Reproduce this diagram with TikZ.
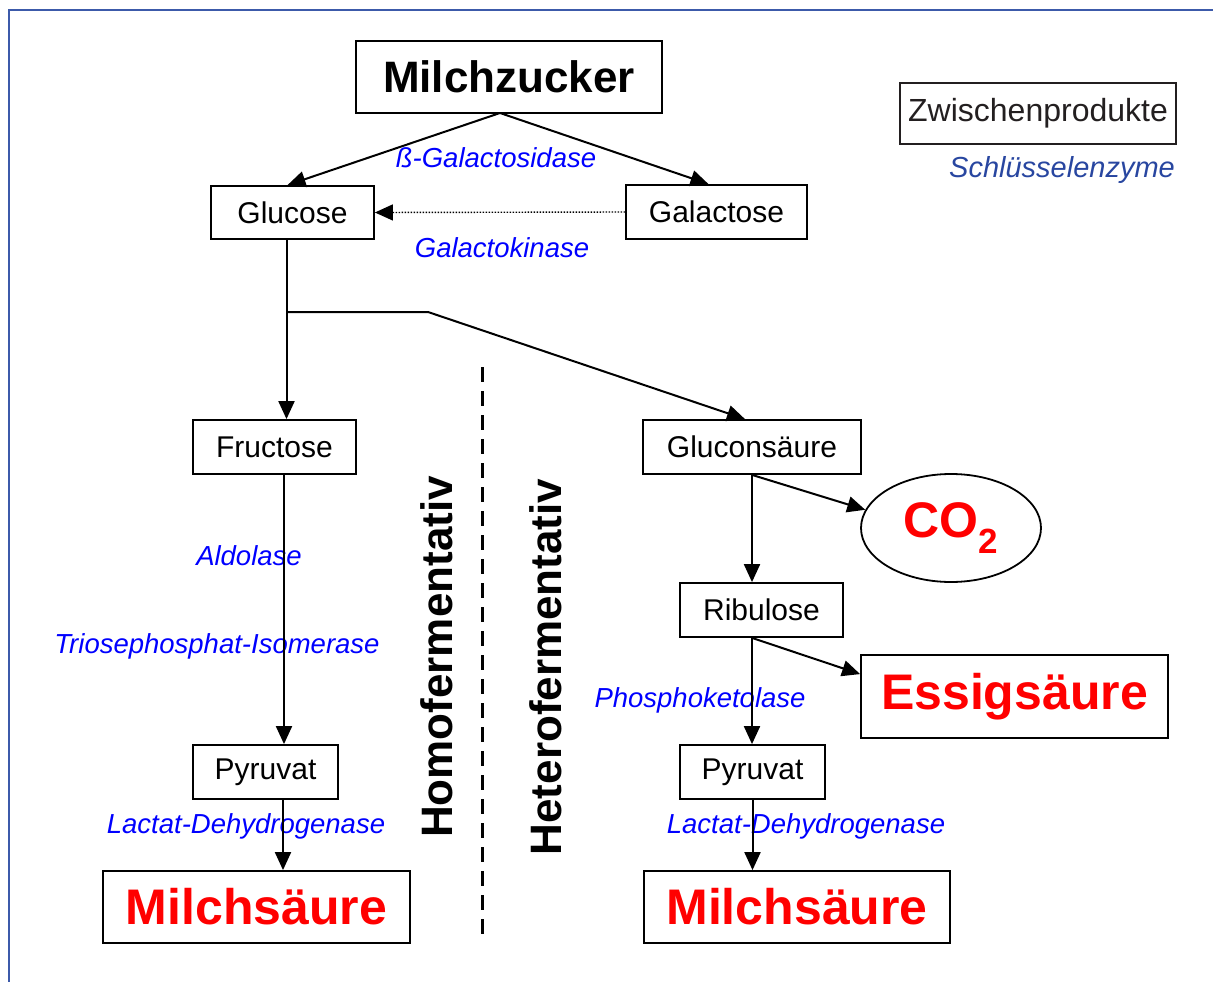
\documentclass[tikz,border=0pt]{standalone}
\usepackage{fontspec}
\setmainfont{Liberation Sans}
\usetikzlibrary{arrows.meta,shapes.geometric,calc}
\definecolor{enz}{RGB}{0,0,255}
\definecolor{framec}{RGB}{60,90,170}
\definecolor{leg}{RGB}{40,70,160}
\definecolor{rd}{RGB}{255,0,0}
\definecolor{dk}{RGB}{35,31,32}
\begin{document}
\begin{tikzpicture}[x=1pt,y=-1pt,
  box/.style={draw=black, line width=1.8pt, inner sep=0pt, font=\fontsize{30}{34}\selectfont},
  big/.style={draw=black, line width=1.8pt, inner sep=0pt, text=rd, font=\fontsize{50}{56}\selectfont\bfseries},
  enzyme/.style={text=enz, inner sep=0pt, font=\fontsize{27.5}{32}\selectfont\itshape},
  arr/.style={line width=2pt, -{Triangle[length=18pt,width=16pt]}},
  side/.style={inner sep=0pt, rotate=90, font=\fontsize{44}{50}\selectfont\bfseries}]
\useasboundingbox (0,0) rectangle (1213,982);
\draw[framec, line width=2pt] (9,982) -- (9,10) -- (1213,10);

% nodes
\node[box, minimum width=306pt, minimum height=72pt, font=\fontsize{44}{50}\selectfont\bfseries] (mz) at (509,77) {Milchzucker};
\node[box, minimum width=163pt, minimum height=53pt] (glu) at (292.5,212.5) {Glucose};
\node[box, minimum width=181pt, minimum height=54pt] (gal) at (716.5,212) {Galactose};
\node[box, minimum width=163pt, minimum height=54pt] (fru) at (274.5,447) {Fructose};
\node[box, minimum width=218pt, minimum height=54pt] (gcs) at (752,447) {Gluconsäure};
\node[box, minimum width=163pt, minimum height=54pt] (rib) at (761.5,610) {Ribulose};
\node[box, minimum width=145pt, minimum height=54pt] (pyl) at (265.5,772) {Pyruvat};
\node[box, minimum width=145pt, minimum height=54pt] (pyr) at (752.5,772) {Pyruvat};
\node[big, minimum width=307pt, minimum height=72pt] (msl) at (256.5,907) {Milchsäure};
\node[big, minimum width=306pt, minimum height=72pt] (msr) at (797,907) {Milchsäure};
\node[big, minimum width=307pt, minimum height=83pt] (ess) at (1014.5,696.5) {Essigsäure};
\node[big, ellipse, minimum width=180pt, minimum height=108pt] (co2) at (951,528) {CO\textsubscript{2}};
\node[box, draw=dk, text=dk, line width=1.4pt, minimum width=276pt, minimum height=61pt, font=\fontsize{32}{36}\selectfont] (zw) at (1038,113.5) {Zwischenprodukte};
\node[inner sep=0pt, text=leg, font=\fontsize{29}{34}\selectfont\itshape] (se) at (1062,170) {Schlüsselenzyme};

% enzyme labels
\node[enzyme] (e1) at (496,158) {ß-Galactosidase};
\node[enzyme] (e2) at (502,248) {Galactokinase};
\node[enzyme] (e3) at (249,556) {Aldolase};
\node[enzyme] (e4) at (217,646) {Triosephosphat-Isomerase};
\node[enzyme] (e5) at (246,826) {Lactat-Dehydrogenase};
\node[enzyme] (e6) at (700,700) {Phosphoketolase};
\node[enzyme] (e7) at (806,826) {Lactat-Dehydrogenase};

% side labels
\node[side] (homo) at (437,657) {Homofermentativ};
\node[side] (hetero) at (546,667) {Heterofermentativ};
\coordinate (dtop) at (482,367);
\coordinate (dbot) at (482,935);
\draw[line width=3pt, dash pattern=on 15pt off 9pt] (dtop) -- (dbot);

% connectors
\coordinate (mzb) at (500,113);
\draw[arr] (mzb) -- ($(glu.north)+(-5,0)$);
\draw[arr] (mzb) -- ($(gal.north)+(-8,0)$);
\draw[line width=1.4pt, dash pattern=on 1.5pt off 1.5pt, -{Triangle[length=18pt,width=16pt]}] (gal.west) -- (glu.east);

\coordinate (gd) at ($(glu.south)+(-6,0)$);
\coordinate (br) at (gd |- 0,312);
\coordinate (bend) at (428,312);
\draw[arr] (gd) -- (gd |- fru.north);
\draw[arr] (br) -- (bend) -- ($(gcs.north)+(-7,0)$);

\coordinate (fd) at (284,474);
\draw[arr] (fd) -- (fd |- pyl.north);
\coordinate (pd) at (283,799);
\draw[arr] (pd) -- (pd |- msl.north);

\draw[arr] (gcs.south) -- (gcs.south |- rib.north);
\draw[arr] (gcs.south) -- (co2.168);
\coordinate (rb) at ($(rib.south)+(-9.5,0)$);
\draw[arr] (rb) -- (rb |- pyr.north);
\draw[arr] (rb) -- ($(ess.north west)+(0,20)$);
\draw[arr] (pyr.south) -- (pyr.south |- msr.north);
\end{tikzpicture}
\end{document}
